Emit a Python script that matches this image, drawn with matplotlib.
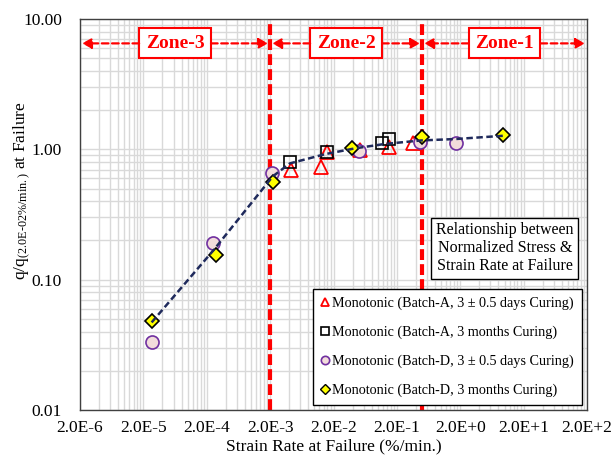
import matplotlib
matplotlib.use("Agg")
import matplotlib.pyplot as plt
from matplotlib.lines import Line2D
from matplotlib.ticker import FixedLocator, FixedFormatter, NullFormatter

plt.rcParams["font.family"] = ["Liberation Serif", "DejaVu Serif"]
plt.rcParams["mathtext.fontset"] = "custom"
plt.rcParams["mathtext.rm"] = "Liberation Serif"
plt.rcParams["mathtext.it"] = "Liberation Serif:italic"

# --- measured series (strain rate in %/min, normalized deviator stress) ---
a_fresh_rate = [4.2e-3, 1.26e-2, 1.6e-2, 5.2e-2, 0.15, 0.36]
a_fresh_q = [0.70, 0.73, 0.95, 0.99, 1.05, 1.12]

a_aged_rate = [4.1e-3, 1.57e-2, 0.116, 0.15]
a_aged_q = [0.80, 0.95, 1.12, 1.20]

d_fresh_rate = [2.7e-5, 2.5e-4, 2.13e-3, 5.0e-2, 0.46, 1.70]
d_fresh_q = [0.033, 0.19, 0.66, 0.97, 1.14, 1.12]

d_aged_rate = [2.7e-5, 2.8e-4, 2.2e-3, 3.9e-2, 0.50, 9.4]
d_aged_q = [0.048, 0.155, 0.56, 1.03, 1.24, 1.29]

# overall trend
trend_rate = [2.7e-5, 2.6e-4, 2.2e-3, 4.1e-3, 1.5e-2, 4.5e-2, 0.13, 0.48, 1.7, 9.4]
trend_q = [0.047, 0.17, 0.62, 0.78, 0.92, 1.02, 1.10, 1.17, 1.20, 1.27]

series_labels = [
    "Monotonic (Batch-A, 3 \u00b1 0.5 days Curing)",
    "Monotonic (Batch-A, 3 months Curing)",
    "Monotonic (Batch-D, 3 \u00b1 0.5 days Curing)",
    "Monotonic (Batch-D, 3 months Curing)",
]

# strain-rate zones
zone_bounds = [2e-6, 2e-3, 0.5, 2e2]
zone_names = ["Zone-3", "Zone-2", "Zone-1"]

x_ticks = [2e-6, 2e-5, 2e-4, 2e-3, 2e-2, 2e-1, 2e0, 2e1, 2e2]
x_tick_labels = ["2.0E-6", "2.0E-5", "2.0E-4", "2.0E-3", "2.0E-2",
                 "2.0E-1", "2.0E+0", "2.0E+1", "2.0E+2"]
y_ticks = [0.01, 0.1, 1.0, 10.0]
y_tick_labels = ["0.01", "0.10", "1.00", "10.00"]

RED = "#FF0000"
PURPLE = "#7030A0"
PINK = "#F2DCDB"
NAVY = "#1F2A5C"

fig = plt.figure(figsize=(6.14, 4.59), dpi=100)
ax = fig.add_axes([80 / 614, 1 - 410 / 459, 507 / 614, 391 / 459])
ax.set_xscale("log")
ax.set_yscale("log")
ax.set_xlim(zone_bounds[0], zone_bounds[-1])
ax.set_ylim(y_ticks[0], y_ticks[-1])

# grid: major and minor lines, all light gray
minor_x = [t * k for t in x_ticks[:-1] for k in range(2, 10)]
minor_y = [t * k for t in y_ticks[:-1] for k in range(2, 10)]
ax.xaxis.set_major_locator(FixedLocator(x_ticks))
ax.xaxis.set_major_formatter(FixedFormatter(x_tick_labels))
ax.xaxis.set_minor_locator(FixedLocator(minor_x))
ax.xaxis.set_minor_formatter(NullFormatter())
ax.yaxis.set_major_locator(FixedLocator(y_ticks))
ax.yaxis.set_major_formatter(FixedFormatter(y_tick_labels))
ax.yaxis.set_minor_locator(FixedLocator(minor_y))
ax.yaxis.set_minor_formatter(NullFormatter())
ax.grid(True, which="both", color="#D9D9D9", lw=1.0, zorder=0)
ax.set_axisbelow(True)
ax.tick_params(which="both", length=0)
ax.tick_params(axis="x", pad=7, labelsize=12.5)
ax.tick_params(axis="y", pad=13, labelsize=12.5)
for sp in ax.spines.values():
    sp.set_color("#404040")
    sp.set_linewidth(1.0)

# zone boundaries
for b in zone_bounds[1:-1]:
    ax.axvline(b, color=RED, lw=3.0, ls=(0, (2.6, 1.0)), zorder=2)

# data series
ax.plot(a_fresh_rate, a_fresh_q, ls="none", marker="^", ms=9.6,
        mfc="none", mec=RED, mew=1.3, zorder=3)
ax.plot(a_aged_rate, a_aged_q, ls="none", marker="s", ms=8.4,
        mfc="none", mec="black", mew=1.2, zorder=3)
ax.plot(d_fresh_rate, d_fresh_q, ls="none", marker="o", ms=9.4,
        mfc=PINK, mec=PURPLE, mew=1.2, zorder=3)
ax.plot(d_aged_rate, d_aged_q, ls="none", marker="D", ms=7.4,
        mfc="#FFFF00", mec="black", mew=1.2, zorder=4)
ax.plot(trend_rate, trend_q, color=NAVY, lw=1.8, ls=(0, (2.6, 1.4)), zorder=5)

# axis titles
ax.set_xlabel("Strain Rate at Failure (%/min.)", fontsize=12.5, labelpad=2)
ax.set_ylabel("q/q$_{\\mathregular{(2.0E\u201002\\%/min.)}}$ at Failure",
              fontsize=12.5, labelpad=4)
ax.yaxis.set_label_coords(-0.093, 0.56)

# legend
handles = [
    Line2D([], [], ls="none", marker="^", ms=6, mfc="none", mec=RED, mew=1.3),
    Line2D([], [], ls="none", marker="s", ms=6, mfc="none", mec="black", mew=1.2),
    Line2D([], [], ls="none", marker="o", ms=6, mfc=PINK, mec=PURPLE, mew=1.2),
    Line2D([], [], ls="none", marker="D", ms=4.6, mfc="#FFFF00", mec="black", mew=1.0),
]
leg = ax.legend(handles, series_labels, loc="lower right",
                bbox_to_anchor=(0.99, 0.013), borderaxespad=0,
                fontsize=10.2, frameon=True, fancybox=False, framealpha=1,
                edgecolor="black", handlelength=0.7, handletextpad=0.15,
                labelspacing=1.1, borderpad=0.55)
leg.get_frame().set_linewidth(1.0)
leg.set_zorder(6)

# explanatory note
ax.text(0.838, 0.414,
        "Relationship between\nNormalized Stress &\nStrain Rate at Failure",
        transform=ax.transAxes, ha="center", va="center", fontsize=11.5,
        linespacing=1.15, zorder=6,
        bbox=dict(boxstyle="square,pad=0.3", fc="white", ec="black", lw=1.0))

# zone labels with two-way arrows
zone_y = 6.5
labels = []
for lo, hi, name in zip(zone_bounds[:-1], zone_bounds[1:], zone_names):
    xc = (lo * hi) ** 0.5
    t = ax.text(xc, zone_y, name, ha="center", va="center", color=RED,
                fontsize=14, fontweight="bold", zorder=7,
                bbox=dict(boxstyle="square,pad=0.34", fc="white", ec=RED, lw=1.5))
    labels.append((lo, hi, t))

fig.canvas.draw()
renderer = fig.canvas.get_renderer()
inv = ax.transData.inverted()
for lo, hi, t in labels:
    bb = t.get_bbox_patch().get_window_extent(renderer)
    y_disp = ax.transData.transform((lo, zone_y))[1]
    lo_disp = ax.transData.transform((lo, zone_y))[0] + 2
    hi_disp = ax.transData.transform((hi, zone_y))[0] - 2
    for start, end in [(bb.x0, lo_disp), (bb.x1, hi_disp)]:
        p0 = inv.transform((start, y_disp))
        p1 = inv.transform((end, y_disp))
        ax.annotate("", xy=p1, xytext=p0, zorder=7,
                    arrowprops=dict(arrowstyle="-|>,head_length=0.55,head_width=0.3",
                                    color=RED, lw=1.6, ls=(0, (3, 1.6)),
                                    shrinkA=0, shrinkB=0))

fig.savefig("out.png", dpi=100)
